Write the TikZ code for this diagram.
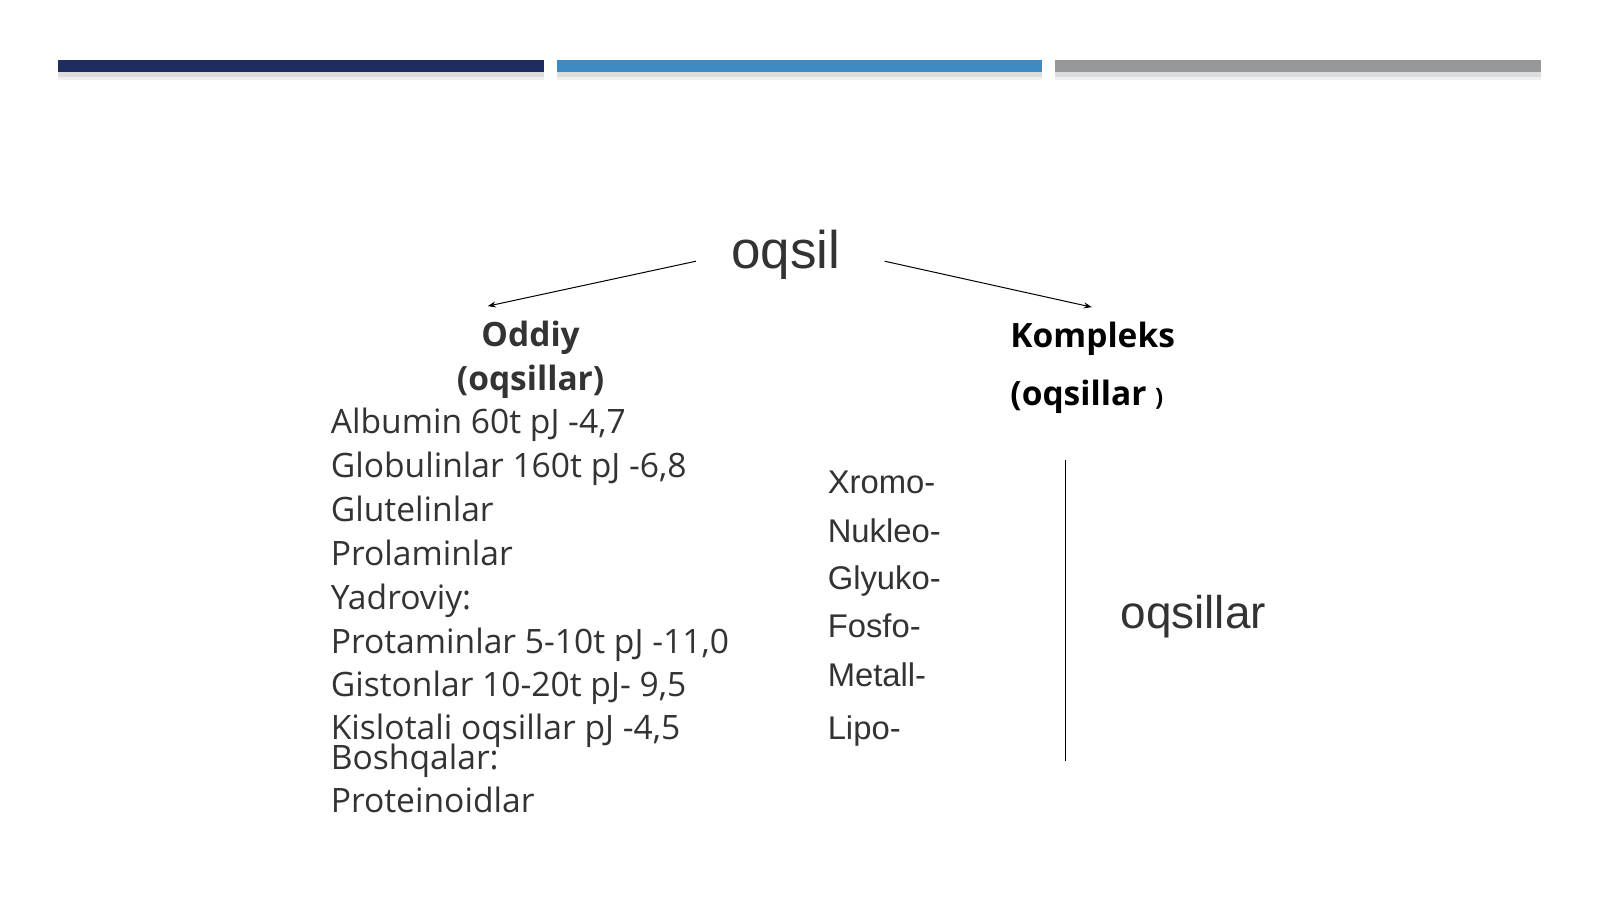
\documentclass[tikz,border=0pt]{standalone}
\usepackage{fontspec}
\setmainfont{Open Sans}
\newfontfamily\arialf{Liberation Sans}
\usetikzlibrary{arrows.meta}
\definecolor{navy}{HTML}{1F2C5E}
\definecolor{midblue}{HTML}{408AC4}
\definecolor{bargray}{HTML}{96989A}
\definecolor{txt}{HTML}{333333}
\tikzset{
  item/.style={anchor=base west, inner sep=0pt, text=txt, font=\fontsize{33.6}{40}\selectfont},
  kitem/.style={anchor=base west, inner sep=0pt, text=txt, font=\arialf\fontsize{32.8}{38}\selectfont},
  head/.style={anchor=base, inner sep=0pt, font=\bfseries\fontsize{33.5}{40}\selectfont},
  conn/.style={draw=black, line width=1pt, -{Stealth[length=8pt,width=6pt]}},
}
\begin{document}
\begin{tikzpicture}[x=1.0204pt,y=-1.0204pt]
\useasboundingbox (0,0) rectangle (1568,881);
\fill[white] (0,0) rectangle (1568,881);
% shadows
\foreach \a/\b in {57/533,546/1021,1034/1510}{
  \fill[black,opacity=0.06] (\a,62) rectangle (\b,78);
  \fill[black,opacity=0.08] (\a,63) rectangle (\b,75);
}
\fill[navy] (57,59) rectangle (533,71);
\fill[midblue] (546,59) rectangle (1021,71);
\fill[bargray] (1034,59) rectangle (1510,71);
% title
\node[anchor=base, inner sep=0pt, text=txt, font=\arialf\fontsize{53}{62}\selectfont] (oqsil) at (770,263) {oqsil};
\coordinate (la) at (682,256);
\coordinate (lb) at (478,300);
\coordinate (ra) at (867,256);
\coordinate (rb) at (1070,301);
\draw[conn] (la) -- (lb);
\draw[conn] (ra) -- (rb);
% left heading
\node[head, text=txt] (oddiy) at (520,340) {Oddiy};
\node[head, text=txt] (oddiy2) at (520,383) {(oqsillar)};
% right heading
\node[head, anchor=base west, text=black] (komp) at (990,341) {Kompleks};
\node[head, anchor=base west, text=black] (komp2) at (990,397) {(oqsillar {\fontsize{24}{28}\selectfont)}};
% left list
\node[item] (l1) at (324,425) {Albumin 60t pJ -4,7};
\node[item] (l2) at (324,468) {Globulinlar 160t pJ -6,8};
\node[item] (l3) at (324,511) {Glutelinlar};
\node[item] (l4) at (324,554) {Prolaminlar};
\node[item] (l5) at (324,597) {Yadroviy:};
\node[item] (l6) at (324,640) {Protaminlar 5-10t pJ -11,0};
\node[item] (l7) at (324,683) {Gistonlar 10-20t pJ- 9,5};
\node[item] (l8) at (324,725) {Kislotali oqsillar pJ -4,5};
\node[item] (l9) at (324,754) {Boshqalar:};
\node[item] (l10) at (324,796) {Proteinoidlar};
% right list
\node[kitem] (k1) at (811,484) {Xromo-};
\node[kitem] (k2) at (811,532) {Nukleo-};
\node[kitem] (k3) at (811,578) {Glyuko-};
\node[kitem] (k4) at (811,625) {Fosfo-};
\node[kitem] (k5) at (811,673) {Metall-};
\node[kitem] (k6) at (811,725) {Lipo-};
\coordinate (vt) at (1044,451);
\coordinate (vb) at (1044,746);
\draw[black, line width=1.2pt] (vt) -- (vb);
\node[anchor=base west, inner sep=0pt, text=txt, font=\arialf\fontsize{45.9}{54}\selectfont] (oqs) at (1098,616) {oqsillar};
\end{tikzpicture}
\end{document}
